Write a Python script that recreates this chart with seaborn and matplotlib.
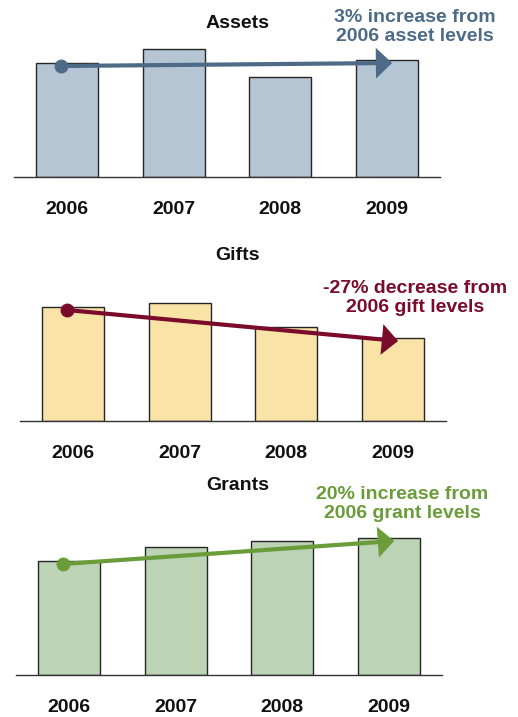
import matplotlib
matplotlib.use("Agg")
import matplotlib.pyplot as plt
import seaborn as sns

# Datos
years = ['2006', '2007', '2008', '2009']
assets = [114, 128, 100, 117]
gifts = [114, 118, 94, 83]
grants = [114, 128, 134, 137]

titles = ['Assets', 'Gifts', 'Grants']
notes = ['3% increase from\n2006 asset levels',
         '-27% decrease from\n2006 gift levels',
         '20% increase from\n2006 grant levels']
bar_colors = ['#b5c5d4', '#fae3a7', '#bcd3b5']
note_colors = ['#4d6b87', '#7a0b2b', '#6a9c3a']

sns.set_theme(style='white')
plt.rcParams['font.family'] = ['Liberation Sans', 'DejaVu Sans']

W, H = 518, 717
fig = plt.figure(figsize=(W / 100, H / 100), dpi=100)

# posición de cada panel en píxeles: (izquierda, línea base)
panels = [(14, 177), (20, 421), (16, 675)]
title_pos = [(1.6, 153), (1.54, 166), (1.58, 189)]
note_pos = [(3.26, 150), (3.21, 123), (3.13, 171)]
series = [assets, gifts, grants]

for i, (vals, (left, base)) in enumerate(zip(series, panels)):
    ax = fig.add_axes([left / W, (H - base) / H, 426 / W, 140 / H])
    sns.barplot(x=years, y=vals, ax=ax, color=bar_colors[i], saturation=1,
                edgecolor='#262626', linewidth=1, width=0.585)
    ax.set_xlim(-0.5, 3.5)
    ax.set_ylim(0, 140)
    ax.set_xlabel('')
    ax.set_ylabel('')
    ax.set_yticks([])
    for s in ['top', 'left', 'right']:
        ax.spines[s].set_visible(False)
    ax.spines['bottom'].set_color('#333333')
    ax.spines['bottom'].set_linewidth(1)
    ax.tick_params(axis='x', length=0, pad=17, labelsize=14)
    for lbl in ax.get_xticklabels():
        lbl.set_fontweight('bold')
        lbl.set_color('#111111')

    # flecha de tendencia 2006 -> 2009
    c = note_colors[i]
    ax.annotate('', xy=(3.05, vals[3] - 3), xytext=(-0.06, vals[0] - 3),
                arrowprops=dict(arrowstyle='-|>,head_length=0.4,head_width=0.38',
                                color=c, lw=3, mutation_scale=20,
                                shrinkA=0, shrinkB=0, joinstyle='miter'),
                annotation_clip=False)
    ax.plot([-0.06], [vals[0] - 3], 'o', color=c, markersize=9, clip_on=False)

    ax.text(title_pos[i][0], title_pos[i][1], titles[i], ha='center', va='center',
            fontsize=14, fontweight='bold', color='#111111', clip_on=False)
    ax.text(note_pos[i][0], note_pos[i][1], notes[i], ha='center', va='center',
            fontsize=14, fontweight='bold', color=c, linespacing=1.2,
            clip_on=False)

plt.savefig('out.png', dpi=100)
